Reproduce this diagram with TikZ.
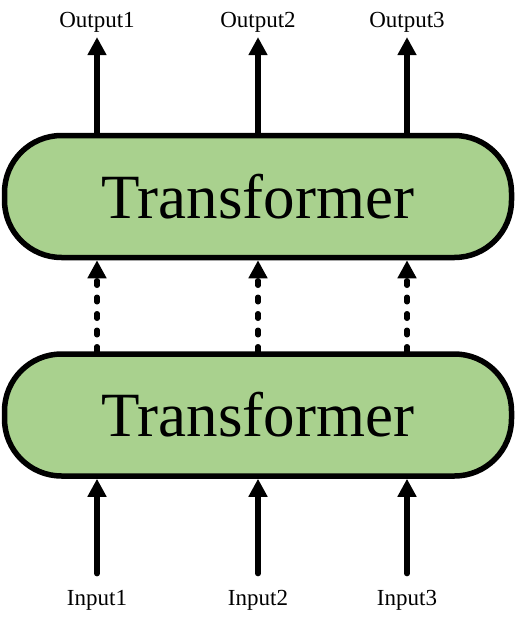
\documentclass[tikz,border=0pt]{standalone}
\usepackage{fontspec}
\setmainfont{Liberation Serif}
\usetikzlibrary{arrows.meta,positioning,calc}
\definecolor{tfgreen}{RGB}{169,209,142}
\begin{document}
\begin{tikzpicture}[x=1pt,y=-1pt,>={Triangle[length=18pt,width=18pt]},
   tfbox/.style={draw,line width=5.5pt,fill=tfgreen,rounded corners=57pt,minimum width=507pt,minimum height=122pt,inner sep=0pt,font=\fontsize{63}{70}\selectfont},
   lbl/.style={font=\fontsize{23}{26}\selectfont,inner sep=0pt,anchor=base},
   flow/.style={->,line width=5.5pt},
   skip/.style={->,line width=5.5pt,line cap=round,dash pattern=on 4.5pt off 12pt}]
  \useasboundingbox (0,0) rectangle (516,623);
  \node[tfbox] (dec) at (258,196.5) {Transformer};
  \node[tfbox] (enc) at (258,415) {Transformer};
  \foreach \i/\x in {1/97,2/258,3/407}{
    \node[lbl] (out\i) at (\x,28) {Output\i};
    \node[lbl] (in\i) at (\x,605) {Input\i};
  }
  \foreach \i in {1,2,3}{
    \draw[flow,shorten >=4pt] (out\i |- dec.north) -- (out\i.south);
    \draw[skip] (in\i |- enc.north) -- (in\i |- dec.south);
    \draw[flow,line cap=round,shorten <=16pt] (in\i.north) -- (in\i |- enc.south);
  }
\end{tikzpicture}
\end{document}
